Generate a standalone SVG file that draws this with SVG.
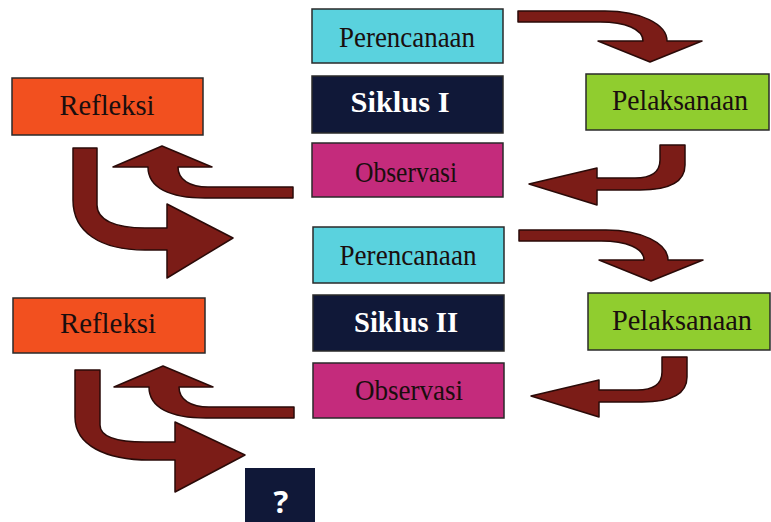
<svg xmlns="http://www.w3.org/2000/svg" xmlns:xlink="http://www.w3.org/1999/xlink" width="771" height="522" viewBox="0 0 771 522">
<style>
.box{stroke:#2a2a2a;stroke-width:1.5}
.plan{fill:#5ad2de}
.cyc{fill:#101838}
.obs{fill:#c42b7c}
.act{fill:#90cd2f}
.ref{fill:#f2501f}
.t{font-family:"Liberation Serif","Times New Roman",serif;font-size:30px;fill:#1a0e0e;text-anchor:middle}
.tw{font-family:"Liberation Serif","Times New Roman",serif;font-size:30px;font-weight:bold;fill:#ffffff;text-anchor:middle}
.arr{fill:#7b1c17;stroke:#2a0a08;stroke-width:1.5;stroke-linejoin:round}
</style>
<defs>
<path id="arrA" d="M518,11 L605,11 C640,11 667,24 667,41 L702,41 L650,62 L598,41 L643,41 C643,29 625,22 600,22 L518,22 Z"/>
<path id="arrB" d="M660,145 L685,145 L685,165 C685,182 670,190 640,190 L597,190 L597,205 L529,184 L597,168 L597,178 L635,178 C652,178 660,172 660,160 Z"/>
<path id="arrC" d="M293,187 L293,198 L205,198 C170,198 148,188 148,167 L113,167 L162,146 L212,167 L178,167 C178,180 190,187 208,187 Z"/>
</defs>
<rect width="771" height="522" fill="#ffffff"/>
<g id="connectors">
<use xlink:href="#arrA" class="arr"/>
<use xlink:href="#arrA" class="arr" transform="translate(1,219)"/>
<use xlink:href="#arrB" class="arr"/>
<use xlink:href="#arrB" class="arr" transform="translate(2,212)"/>
<use xlink:href="#arrC" class="arr"/>
<use xlink:href="#arrC" class="arr" transform="translate(1,220)"/>
<path class="arr" d="M73,148 L97,148 L97,205 C97,220 115,228 145,228 L167,228 L167,204 L233,238 L167,278 L167,250 L145,250 C100,250 73,232 73,200 Z"/>
<path class="arr" d="M75,370 L100,370 L100,425 C100,437 118,442 145,442 L175,442 L175,422 L245,455 L175,492 L175,460 L150,460 C105,460 75,445 75,417 Z"/>
</g>
<g id="perencanaan1"><rect class="box plan" x="312" y="9" width="191" height="54"/><text class="t" x="407" y="47" textLength="136" lengthAdjust="spacingAndGlyphs">Perencanaan</text></g>
<g id="siklus1"><rect class="box cyc" x="312" y="76" width="191" height="57"/><text class="tw" x="400" y="112" textLength="99" lengthAdjust="spacingAndGlyphs">Siklus I</text></g>
<g id="observasi1"><rect class="box obs" x="312" y="143" width="191" height="54"/><text class="t" x="406" y="182" textLength="102" lengthAdjust="spacingAndGlyphs">Observasi</text></g>
<g id="pelaksanaan1"><rect class="box act" x="586" y="74" width="183" height="56"/><text class="t" x="680" y="110" textLength="136" lengthAdjust="spacingAndGlyphs">Pelaksanaan</text></g>
<g id="refleksi1"><rect class="box ref" x="12" y="78" width="191" height="57"/><text class="t" x="107" y="115" textLength="95" lengthAdjust="spacingAndGlyphs">Refleksi</text></g>
<g id="perencanaan2"><rect class="box plan" x="313" y="227" width="191" height="56"/><text class="t" x="408" y="265" textLength="137" lengthAdjust="spacingAndGlyphs">Perencanaan</text></g>
<g id="siklus2"><rect class="box cyc" x="313" y="295" width="191" height="56"/><text class="tw" x="406" y="332" textLength="104" lengthAdjust="spacingAndGlyphs">Siklus II</text></g>
<g id="observasi2"><rect class="box obs" x="313" y="363" width="191" height="55"/><text class="t" x="409" y="400" textLength="108" lengthAdjust="spacingAndGlyphs">Observasi</text></g>
<g id="pelaksanaan2"><rect class="box act" x="588" y="293" width="182" height="57"/><text class="t" x="682" y="330" textLength="140" lengthAdjust="spacingAndGlyphs">Pelaksanaan</text></g>
<g id="refleksi2"><rect class="box ref" x="13" y="298" width="192" height="55"/><text class="t" x="108" y="333" textLength="96" lengthAdjust="spacingAndGlyphs">Refleksi</text></g>
<g id="question"><rect x="245" y="468" width="70" height="56" fill="#101838"/><text x="281" y="513" font-family="'Open Sans','Liberation Sans',sans-serif" font-size="31" font-weight="bold" fill="#ffffff" text-anchor="middle">?</text></g>
</svg>
